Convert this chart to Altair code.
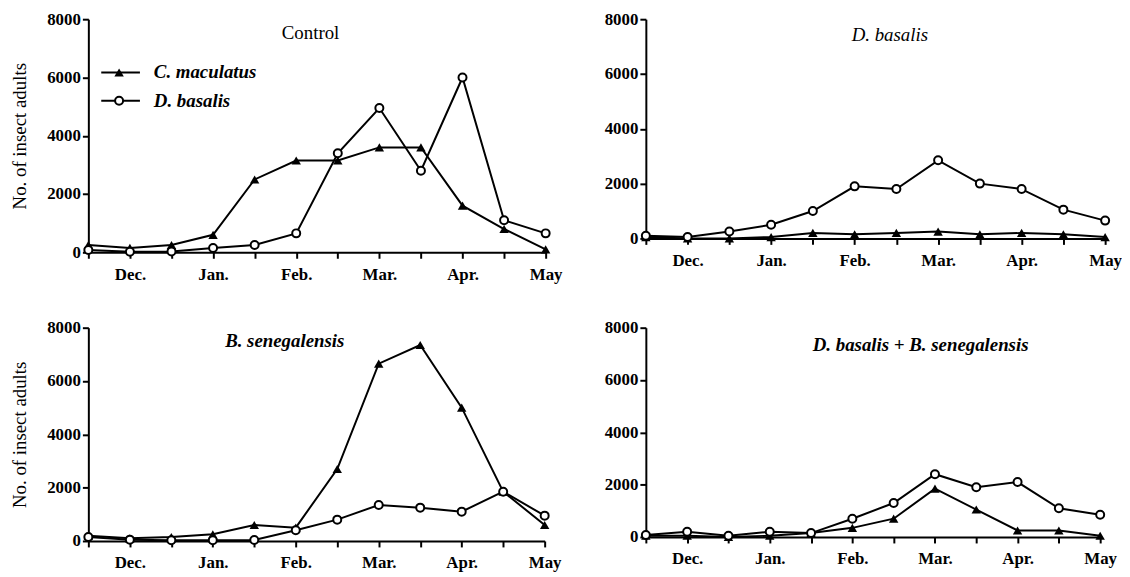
import json
import altair as alt
import pandas as pd

FONT = "Liberation Serif"

periods = list(range(12))
month_labels = ["", "Dec.", "", "Jan.", "", "Feb.", "", "Mar.", "", "Apr.", "", "May"]
species = ["C. maculatus", "D. basalis"]
y_ticks = [0, 2000, 4000, 6000, 8000]
panel_titles = ["Control", "D. basalis", "B. senegalensis", "D. basalis + B. senegalensis"]

# Control
control_cmac = [250, 150, 250, 600, 2500, 3150, 3150, 3600, 3600, 1600, 800, 100]
control_dbas = [80, 20, 30, 150, 250, 650, 3400, 4950, 2800, 6000, 1100, 650]
# D. basalis treatment
dbas_cmac = [50, 0, 0, 50, 200, 150, 200, 250, 150, 200, 150, 50]
dbas_dbas = [100, 50, 250, 500, 1000, 1900, 1800, 2850, 2000, 1800, 1050, 650]
# B. senegalensis treatment
bsen_cmac = [200, 100, 150, 250, 600, 500, 2700, 6650, 7350, 5000, 1850, 600]
bsen_dbas = [150, 50, 25, 25, 40, 400, 800, 1350, 1250, 1100, 1850, 950]
# D. basalis + B. senegalensis treatment
both_cmac = [50, 50, 0, 50, 150, 350, 700, 1850, 1050, 250, 250, 50]
both_dbas = [80, 200, 50, 200, 150, 700, 1300, 2400, 1900, 2100, 1100, 850]

label_expr = json.dumps(month_labels) + "[datum.value]"


def make_panel(title, cmac, dbas, width, height, ytitle, tx, ty, tstyle, tweight, legend):
    df = pd.DataFrame({
        "period": periods * 2,
        "count": cmac + dbas,
        "species": [species[0]] * len(periods) + [species[1]] * len(periods),
    })
    x = alt.X("period:Q",
              scale=alt.Scale(domain=[0, 11], nice=False, zero=False),
              axis=alt.Axis(values=periods, labelExpr=label_expr, title=None, grid=False,
                            labelOverlap=False, labelFlush=False))
    y = alt.Y("count:Q",
              scale=alt.Scale(domain=[0, 8000], nice=False),
              axis=alt.Axis(values=y_ticks, format="d", grid=False,
                            title="No. of insect adults" if ytitle else None))
    base = alt.Chart(df)
    lines = base.mark_line(color="black", strokeWidth=2).encode(x=x, y=y, detail="species:N")
    tri = base.transform_filter(alt.datum.species == species[0]).mark_point(
        shape="triangle-up", filled=True, color="black", size=90, opacity=1).encode(x=x, y=y)
    circ = base.transform_filter(alt.datum.species == species[1]).mark_point(
        shape="circle", fill="white", stroke="black", strokeWidth=2, size=65, opacity=1,
        fillOpacity=1).encode(x=x, y=y)
    ttl = alt.Chart(pd.DataFrame({"t": [title]})).mark_text(
        font=FONT, fontSize=19, fontStyle=tstyle, fontWeight=tweight, color="black",
        align="center", baseline="middle").encode(x=alt.value(tx), y=alt.value(ty), text="t:N")
    layers = [lines, tri, circ, ttl]
    if legend:
        rows = [53.7, 82.3]
        for i, sp in enumerate(species):
            sdf = pd.DataFrame({"s": [sp]})
            layers.append(alt.Chart(sdf).mark_rule(color="black", strokeWidth=2).encode(
                x=alt.value(13), x2=alt.value(52), y=alt.value(rows[i])))
            if i == 0:
                layers.append(alt.Chart(sdf).mark_point(
                    shape="triangle-up", filled=True, color="black", size=90, opacity=1).encode(
                    x=alt.value(31), y=alt.value(rows[i])))
            else:
                layers.append(alt.Chart(sdf).mark_point(
                    shape="circle", fill="white", stroke="black", strokeWidth=2, size=65,
                    opacity=1, fillOpacity=1).encode(x=alt.value(31), y=alt.value(rows[i])))
            layers.append(alt.Chart(sdf).mark_text(
                font=FONT, fontSize=19, fontStyle="italic", fontWeight="bold", color="black",
                align="left", baseline="middle").encode(
                x=alt.value(66), y=alt.value(rows[i]), text="s:N"))
    return alt.layer(*layers).properties(width=width, height=height)


p1 = make_panel(panel_titles[0], control_cmac, control_dbas, 461, 235, True, 224, 14, "normal", "normal", True)
p2 = make_panel(panel_titles[1], dbas_cmac, dbas_dbas, 463, 221, False, 246, 16, "italic", "normal", False)
p3 = make_panel(panel_titles[2], bsen_cmac, bsen_dbas, 460, 215, True, 198, 13, "italic", "bold", False)
p4 = make_panel(panel_titles[3], both_cmac, both_dbas, 458, 211, False, 277, 17, "italic", "bold", False)

chart = alt.concat(p1, p2, p3, p4, columns=2, spacing={"row": 76, "column": 101}, bounds="flush").properties(
    padding={"left": 3, "top": 0, "right": 0, "bottom": 0}
).configure_view(stroke=None).configure_axis(
    domainColor="black", domainWidth=2, tickColor="black", tickWidth=2, tickSize=6,
    labelFont=FONT, labelFontSize=17, labelFontWeight="bold", labelColor="black",
    titleFont=FONT, titleFontSize=19, titleFontWeight="normal", titleColor="black",
).configure_axisX(labelPadding=8).configure_axisY(labelPadding=2, titlePadding=17)

chart.save("out.html", embed_options={"renderer": "svg", "actions": False})
